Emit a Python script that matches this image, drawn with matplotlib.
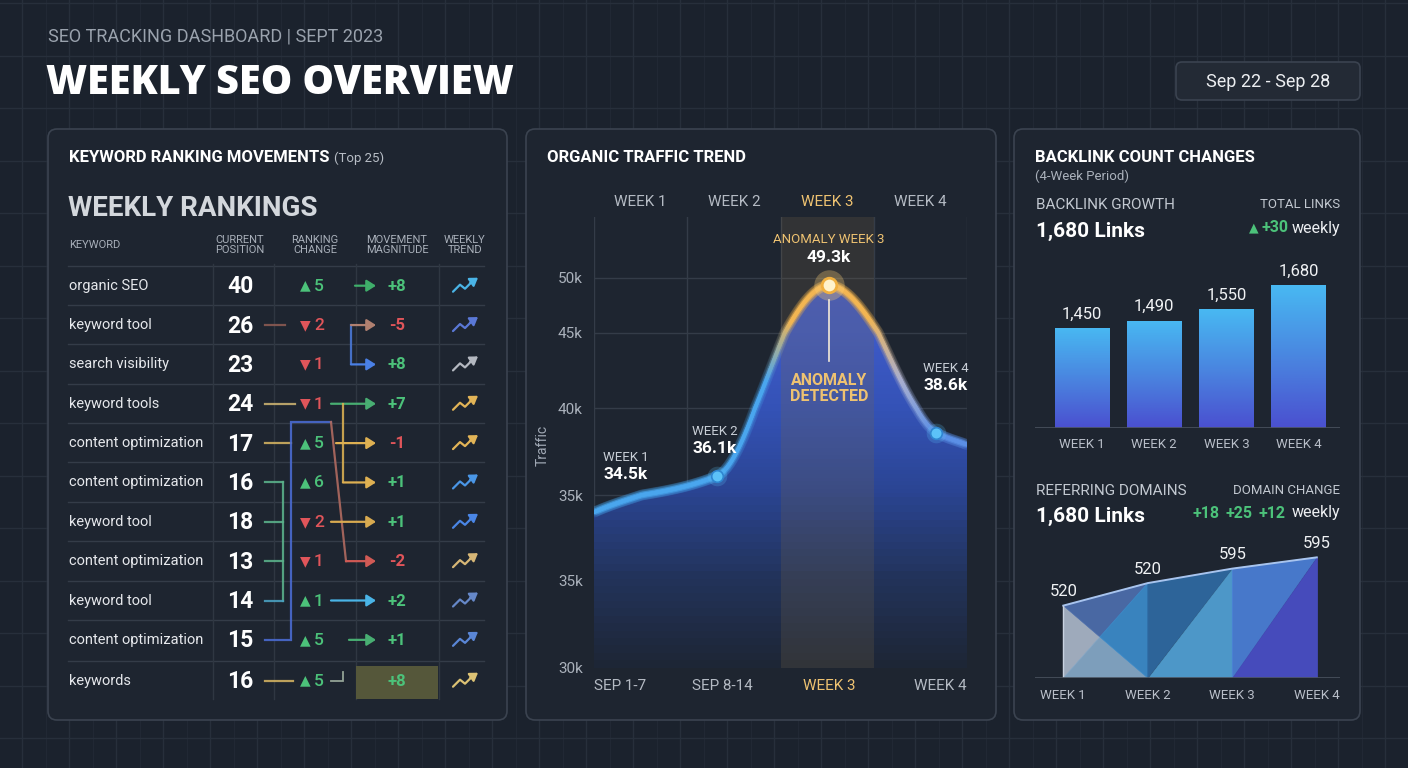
import numpy as np
import matplotlib
matplotlib.use("Agg")
import matplotlib.pyplot as plt
from matplotlib.patches import FancyBboxPatch, Polygon, Rectangle
from matplotlib.collections import LineCollection
from matplotlib.colors import LinearSegmentedColormap, to_rgb

# ---- data -----------------------------------------------------------------
keywords = ["organic SEO", "keyword tool", "search visibility", "keyword tools",
            "content optimization", "content optimization", "keyword tool",
            "content optimization", "keyword tool", "content optimization", "keywords"]
positions = [40, 26, 23, 24, 17, 16, 18, 13, 14, 15, 16]
rank_change = [5, -2, -1, -1, 5, 6, -2, -1, 1, 5, 5]
magnitude = [8, -5, 8, 7, -1, 1, 1, -2, 2, 1, 8]
trend_colors = ["#4ab4e6", "#5a78d6", "#b4b8c0", "#e2b457", "#e2b457", "#4a96e6",
                "#4a86e6", "#d6b676", "#6688c8", "#5a86d6", "#dcc274"]

week_names = ["WEEK 1", "WEEK 2", "WEEK 3", "WEEK 4"]
traffic_x = [0.0, 1.32, 2.52, 3.67, 4.0]
traffic_k = [34.5, 36.1, 49.3, 38.6, 37.9]
traffic_ticks = [30, 32.5, 35, 40, 45, 50]
traffic_tick_labels = ["30k", "35k", "35k", "40k", "45k", "50k"]
traffic_bottom = ["SEP 1-7", "SEP 8-14", "WEEK 3", "WEEK 4"]

backlinks = [1450, 1490, 1550, 1680]
domains = [520, 548, 566, 580]
domain_labels = ["520", "520", "595", "595"]
domain_change = ["+18", "+25", "+12"]

# ---- style ----------------------------------------------------------------
W, H = 1408, 768
BG = "#1b222d"
PANEL = "#1e2530"
EDGE = "#3b4350"
GRID = "#272f3b"
TXT = "#e6e8ec"
MUTED = "#9aa2ad"
GREEN = "#4cc27a"
RED = "#e0555a"
GOLD = "#eec271"
FONT = ["Roboto", "DejaVu Sans"]

fig = plt.figure(figsize=(W / 100, H / 100), dpi=100)
fig.patch.set_facecolor(BG)
base = fig.add_axes([0, 0, 1, 1])
base.set_xlim(0, W)
base.set_ylim(H, 0)
base.axis("off")


def px_axes(x0, y0, x1, y1):
    return fig.add_axes([x0 / W, 1 - y1 / H, (x1 - x0) / W, (y1 - y0) / H])


def put(x, y, s, size=10, color=TXT, weight="normal", ha="left", va="center", family=FONT, **kw):
    return base.text(x, y, s, fontsize=size, color=color, fontweight=weight,
                     ha=ha, va=va, family=family, **kw)


def put_seq(x, y, parts, ha="left", gap=4):
    r = fig.canvas.get_renderer()
    texts = [put(0, y, s, size, c, w) for s, size, c, w in parts]
    widths = [t.get_window_extent(r).width for t in texts]
    total = sum(widths) + gap * (len(parts) - 1)
    cur = x if ha == "left" else x - total
    for t, wd in zip(texts, widths):
        t.set_x(cur)
        cur += wd + gap


# background grid
for gx in np.arange(22, W, 47):
    base.plot([gx, gx], [0, H], color=GRID, lw=1, zorder=0)
    base.plot([gx + 23.5, gx + 23.5], [0, H], color="#212834", lw=0.8, zorder=0)
for gy in np.arange(3, H, 52.5):
    base.plot([0, W], [gy, gy], color=GRID, lw=1, zorder=0)

# panels
for x0, y0, x1, y1 in [(48, 129, 507, 720), (526, 129, 996, 720), (1014, 129, 1360, 720)]:
    base.add_patch(FancyBboxPatch((x0, y0), x1 - x0, y1 - y0,
                                  boxstyle="round,pad=0,rounding_size=9",
                                  fc=PANEL, ec=EDGE, lw=1.2, zorder=1))
base.add_patch(FancyBboxPatch((1176, 62), 184, 38, boxstyle="round,pad=0,rounding_size=6",
                              fc="#232a35", ec=EDGE, lw=1.2, zorder=1))
put(1268, 82, "Sep 22 - Sep 28", 13, "#eceef1", ha="center")

# header
put(48, 36, "SEO TRACKING DASHBOARD | SEPT 2023", 13, MUTED)
put(46, 84, "WEEKLY SEO OVERVIEW", 28.5, "#ffffff", "heavy", family=["Open Sans", "DejaVu Sans"])

# ---- panel 1: keyword table -------------------------------------------------
put_seq(69, 158, [("KEYWORD RANKING MOVEMENTS", 12, "#ffffff", "bold"), ("(Top 25)", 9.5, "#b8bec6", "normal")])
put(68, 209, "WEEKLY RANKINGS", 20, "#d3d7dc", "bold")
hdr = dict(size=8, color="#a8afb9", ha="center", linespacing=1.05)
put(69, 245, "KEYWORD", 8, "#a8afb9")
put(240, 245, "CURRENT\nPOSITION", **hdr)
put(315, 245, "RANKING\nCHANGE", **hdr)
put(397, 245, "MOVEMENT\nMAGNITUDE", **hdr)
put(465, 245, "WEEKLY\nTREND", **hdr)

row_y = 285.7 + 39.35 * np.arange(len(keywords))
row_y[-1] += 1.5
for yy in row_y:
    base.plot([68, 484], [yy - 20, yy - 20], color="#343c48", lw=1, zorder=2)
for vx in [213, 274, 355.5, 439]:
    base.plot([vx, vx], [264, 699], color="#2f3742", lw=1, zorder=2)

# highlighted last magnitude cell
base.add_patch(Rectangle((356, 666), 82, 33, fc="#55573a", ec="none", zorder=2))

for i, yy in enumerate(row_y):
    put(69, yy, keywords[i], 10.5, TXT)
    put(240, yy + 1, str(positions[i]), 16.5, "#ffffff", "bold", ha="center")
    rc = rank_change[i]
    col = GREEN if rc > 0 else RED
    put(305, yy, "▲" if rc > 0 else "▼", 10, col, ha="center", family=["DejaVu Sans"])
    put(314, yy + 0.5, str(abs(rc)), 12.5, col, "medium")
    mg = magnitude[i]
    put(397, yy + 0.5, f"{mg:+d}", 12, GREEN if mg > 0 else RED, "bold", ha="center")
    # trend icon
    tc = trend_colors[i]
    base.plot([453, 460, 465, 472], [yy + 6, yy - 1, yy + 3, yy - 4], color=tc, lw=1.6,
              solid_capstyle="round", solid_joinstyle="round", zorder=3)
    base.annotate("", xy=(478, yy - 8), xytext=(470, yy - 2.5),
                  arrowprops=dict(arrowstyle="-|>,head_length=0.45,head_width=0.3", color=tc,
                                  lw=1.6, shrinkA=0, shrinkB=0, mutation_scale=10), zorder=3)


def seg(pts, c, lw=1.6, alpha=0.9):
    xs, ys = zip(*pts)
    base.plot(xs, ys, color=c, lw=lw, alpha=alpha, zorder=3, solid_joinstyle="miter")


def arrow(x0, x1, y, c):
    base.annotate("", xy=(x1, y), xytext=(x0, y),
                  arrowprops=dict(arrowstyle="-|>,head_length=0.55,head_width=0.35", color=c,
                                  lw=1.6, shrinkA=0, shrinkB=0, mutation_scale=10), zorder=3)


R = row_y
# flow connectors between columns
arrow(355, 376, R[0], "#3fae6a")
seg([(265, R[1]), (285, R[1])], "#8a5a52")
seg([(351, R[1]), (351, R[2])], "#4a78d6")
arrow(351, 376, R[1], "#b08070")
arrow(351, 376, R[2], "#4a80e6")
seg([(265, R[3]), (295, R[3])], "#c8b070")
arrow(331, 376, R[3], "#48ae72")
seg([(343, R[3]), (343, R[5])], "#d8ae52")
arrow(343, 376, R[5], "#deb052")
seg([(265, R[4]), (291, R[4])], "#d0b060")
arrow(336, 376, R[4], "#deb052")
seg([(265, R[9]), (291, R[9]), (291, 422), (331, 422)], "#4a6ad0")
seg([(331, 422), (346, R[7])], "#b06a60")
arrow(346, 376, R[7], "#d05a55")
seg([(283, R[5]), (283, R[8])], "#5ab08a")
for k in [5, 6, 7, 8]:
    seg([(265, R[k]), (283, R[k])], "#5ab08a" if k < 8 else "#4aa0c0")
arrow(331, 376, R[6], "#d8aa50")
arrow(331, 376, R[8], "#4ab4e6")
arrow(349, 376, R[9], "#48ae72")
seg([(265, R[10]), (293, R[10])], "#d0b060")
seg([(331, R[10]), (343, R[10]), (343, R[10] - 9)], "#a0b0a0", lw=1.3)

# ---- panel 2: organic traffic ----------------------------------------------
put(547, 158, "ORGANIC TRAFFIC TREND", 12, "#ffffff", "bold")
put(543, 445, "Traffic", 10, "#a0a8b4", ha="center", rotation=90)

knot_v = np.array([30, 32.5, 35, 40, 45, 50, 55.5])
knot_p = np.array([0, 86.7, 172.7, 259.4, 335, 390, 451.0])
ax2 = px_axes(594, 216.7, 967, 667.7)
ax2.set_yscale("function", functions=(lambda v: np.interp(v, knot_v, knot_p),
                                      lambda p: np.interp(p, knot_p, knot_v)))
ax2.set_xlim(0, 4)
ax2.set_ylim(30, 55.5)
ax2.patch.set_alpha(0)
for s in ax2.spines.values():
    s.set_visible(False)
ax2.set_yticks(traffic_ticks)
ax2.set_yticklabels(traffic_tick_labels, family=FONT, fontsize=11, color="#aab1bb")
ax2.set_xticks([0.28, 1.38, 2.52, 3.71])
ax2.set_xticklabels(traffic_bottom, family=FONT, fontsize=11, color="#b4bac3")
ax2.get_xticklabels()[2].set_color(GOLD)
ax2.tick_params(length=0, pad=8)
ax2.yaxis.set_minor_locator(plt.NullLocator())
for t in traffic_ticks:
    ax2.axhline(t, color="#343c48", lw=1, zorder=1)
for v in range(5):
    ax2.axvline(v, color="#343c48", lw=1, zorder=1)
for i, nm in enumerate(week_names):
    ax2.text(i + 0.5, 1.033, nm, transform=ax2.get_xaxis_transform(), ha="center", va="center",
             family=FONT, fontsize=11, color=GOLD if i == 2 else "#b4bac3")


def pchip(x, y, xs):
    x = np.asarray(x, float)
    y = np.asarray(y, float)
    h = np.diff(x)
    d = np.diff(y) / h
    m = np.zeros_like(y)
    m[0], m[-1] = d[0], d[-1]
    for k in range(1, len(x) - 1):
        if d[k - 1] * d[k] > 0:
            w1, w2 = 2 * h[k] + h[k - 1], h[k] + 2 * h[k - 1]
            m[k] = (w1 + w2) / (w1 / d[k - 1] + w2 / d[k])
    idx = np.clip(np.searchsorted(x, xs) - 1, 0, len(h) - 1)
    t = (xs - x[idx]) / h[idx]
    h00, h10 = 2 * t ** 3 - 3 * t ** 2 + 1, t ** 3 - 2 * t ** 2 + t
    h01, h11 = -2 * t ** 3 + 3 * t ** 2, t ** 3 - t ** 2
    return h00 * y[idx] + h10 * h[idx] * m[idx] + h01 * y[idx + 1] + h11 * h[idx] * m[idx + 1]


xs = np.linspace(0, 4, 500)
ys = pchip(traffic_x, traffic_k, xs)

fill_cmap = LinearSegmentedColormap.from_list("fill", [
    (0.0, "#1d2535"), (0.1, "#22335a"), (0.2, "#2a4492"), (0.39, "#3452b6"),
    (0.6, "#3e5ac8"), (1.0, "#4a60d2")])
poly = Polygon(np.column_stack([np.r_[xs, 4, 0], np.r_[ys, 30, 30]]), closed=True,
               fc="none", ec="none", transform=ax2.transData)
ax2.add_patch(poly)
gy = np.linspace(30, 55.5, 120)
mesh = ax2.pcolormesh([0, 4], gy, ((gy[:-1] + gy[1:]) / 2)[:, None], cmap=fill_cmap,
                      vmin=30, vmax=55.5, shading="flat", zorder=2)
mesh.set_clip_path(poly)
ax2.axvspan(2, 3, color="#7a6848", alpha=0.22, lw=0, zorder=3)

stops_x = [0, 1.85, 2.12, 2.95, 3.3, 3.65, 4.0]
stops_c = [to_rgb(c) for c in ["#4aa6ee", "#4aa6ee", "#f2b552", "#f2b552", "#a8aed0", "#5b8fe6", "#5b8fe6"]]
mid = (xs[:-1] + xs[1:]) / 2
cols = np.column_stack([np.interp(mid, stops_x, [c[j] for c in stops_c]) for j in range(3)])
pts = np.column_stack([xs, ys]).reshape(-1, 1, 2)
segs = np.concatenate([pts[:-1], pts[1:]], axis=1)
for lw, al in [(8, 0.07), (5, 0.16)]:
    ax2.add_collection(LineCollection(segs, colors=cols, linewidths=lw, alpha=al, zorder=4,
                                      capstyle="round"))
ax2.add_collection(LineCollection(segs, colors=cols, linewidths=2.8, zorder=5, capstyle="round"))

for k in [1, 3]:
    ax2.scatter(traffic_x[k], traffic_k[k], s=200, color="#5cc2f8", alpha=0.22, lw=0, zorder=6)
    ax2.scatter(traffic_x[k], traffic_k[k], s=70, color="#5cc2f8", ec="#2f86d0", lw=1.2, zorder=7)
ax2.scatter(traffic_x[2], traffic_k[2], s=480, color="#ffd27a", alpha=0.3, lw=0, zorder=6)
ax2.scatter(traffic_x[2], traffic_k[2], s=110, color="#fff3cc", ec="#f0b040", lw=2, zorder=7)

lab = dict(textcoords="offset pixels", family=FONT, zorder=8, va="center")
ax2.annotate("WEEK 1", (traffic_x[0], traffic_k[0]), (9, 55), fontsize=9.5, color="#c8ced6", **lab)
ax2.annotate("34.5k", (traffic_x[0], traffic_k[0]), (9, 38), fontsize=12.5, color="#ffffff",
             fontweight="bold", **lab)
ax2.annotate("WEEK 2", (traffic_x[1], traffic_k[1]), (-25, 44), fontsize=9.5, color="#c8ced6", **lab)
ax2.annotate("36.1k", (traffic_x[1], traffic_k[1]), (-25, 27), fontsize=12.5, color="#ffffff",
             fontweight="bold", **lab)
ax2.annotate("WEEK 4", (traffic_x[3], traffic_k[3]), (-13, 64), fontsize=9.5, color="#c8ced6", **lab)
ax2.annotate("38.6k", (traffic_x[3], traffic_k[3]), (-13, 47), fontsize=12.5, color="#ffffff",
             fontweight="bold", **lab)
ax2.annotate("ANOMALY WEEK 3", (traffic_x[2], traffic_k[2]), (0, 46), fontsize=9.5, color=GOLD,
             ha="center", **lab)
ax2.annotate("49.3k", (traffic_x[2], traffic_k[2]), (0, 28), fontsize=12.5, color="#ffffff",
             fontweight="bold", ha="center", **lab)
ax2.plot([traffic_x[2]] * 2, [48.0, 43.1], color="#f3ead8", lw=1.2, zorder=8)
ax2.text(traffic_x[2], 41.3, "ANOMALY\nDETECTED", ha="center", va="center", family=FONT,
         fontsize=11.5, fontweight="bold", color=GOLD, linespacing=1.05, zorder=8)

# ---- panel 3: backlinks ----------------------------------------------------
put(1035, 158, "BACKLINK COUNT CHANGES", 12, "#ffffff", "bold")
put(1035, 176, "(4-Week Period)", 9.5, "#aab1bb")
put(1036, 205, "BACKLINK GROWTH", 11, "#c2c8d0")
put(1036, 231, "1,680 Links", 15, "#ffffff", "bold")
put(1340, 205, "TOTAL LINKS", 9.5, "#c2c8d0", ha="right")
put_seq(1340, 228, [("▲", 9, GREEN, "normal"), ("+30", 11.5, GREEN, "bold"),
                    ("weekly", 11.5, "#eceef1", "normal")], ha="right", gap=3)

bx = px_axes(1035, 250, 1340, 428)
bx.set_xlim(-0.65, 3.57)
bx.set_ylim(910, 1871)
bx.patch.set_alpha(0)
for s in bx.spines.values():
    s.set_visible(False)
bar_cmap = LinearSegmentedColormap.from_list("bar", ["#4a50d0", "#4a86e0", "#48b8f2"])
bars = bx.bar(range(4), np.array(backlinks) - 910, bottom=910, width=0.76, color="none", lw=0)
for i, (b, v) in enumerate(zip(bars, backlinks)):
    im = bx.imshow(np.linspace(0, 1, 100)[:, None], extent=[i - 0.38, i + 0.38, 910, v],
                   origin="lower", aspect="auto", cmap=bar_cmap, zorder=2)
    im.set_clip_path(b)
    bx.annotate(f"{v:,}", (i, v), (0, 14), textcoords="offset pixels", ha="center", va="center",
                family=FONT, fontsize=12, color="#f0f2f4")
bx.set_xlim(-0.65, 3.57)
bx.set_ylim(910, 1871)
bx.axhline(910, color="#4a525e", lw=1.2, zorder=3)
bx.set_yticks([])
bx.set_xticks(range(4))
bx.set_xticklabels(week_names, family=FONT, fontsize=9.5, color="#b8bec8")
bx.tick_params(length=0, pad=7)

put(1036, 491, "REFERRING DOMAINS", 11, "#c2c8d0")
put(1036, 516, "1,680 Links", 15, "#ffffff", "bold")
put(1340, 491, "DOMAIN CHANGE", 9.5, "#c2c8d0", ha="right")
put_seq(1340, 513, [(c, 11.5, GREEN, "bold") for c in domain_change] +
        [("weekly", 11.5, "#eceef1", "normal")], ha="right", gap=6)

ax3 = px_axes(1035, 530, 1340, 678)
ax3.set_xlim(-0.335, 3.275)
ax3.set_ylim(430, 614)
ax3.patch.set_alpha(0)
for s in ax3.spines.values():
    s.set_visible(False)
b0 = 430
v = domains
t = (v[0] - b0) / ((v[0] - b0) + (v[1] - b0))
cross = (t, b0 + (v[1] - b0) * t)
facets = [
    ([(0, v[0]), (0, b0), cross], "#aab6c8"),
    ([(0, v[0]), (1, v[1]), cross], "#4d6fae"),
    ([(0, b0), (1, b0), cross], "#86a9c8"),
    ([(1, v[1]), (1, b0), cross], "#3c8ccb"),
    ([(1, v[1]), (1, b0), (2, v[2])], "#2f6aa3"),
    ([(1, b0), (2, b0), (2, v[2])], "#52a2d6"),
    ([(2, v[2]), (2, b0), (3, v[3])], "#4b80d8"),
    ([(2, b0), (3, b0), (3, v[3])], "#4a4fc8"),
]
for verts, c in facets:
    ax3.add_patch(Polygon(verts, closed=True, fc=c, ec=c, lw=0.5, alpha=0.92, zorder=2))
ax3.plot(range(4), domains, color="#a8c4ee", lw=1.4, zorder=3)
ax3.plot([0, 0], [b0, v[0]], color="#c8d2e0", lw=1, zorder=3)
ax3.axhline(b0, color="#4a525e", lw=1.2, zorder=3)
for i, (val, lb) in enumerate(zip(domains, domain_labels)):
    ax3.annotate(lb, (i, val), (0, 14), textcoords="offset pixels", ha="center", va="center",
                 family=FONT, fontsize=12, color="#f0f2f4")
ax3.set_yticks([])
ax3.set_xticks(range(4))
ax3.set_xticklabels(week_names, family=FONT, fontsize=9.5, color="#b8bec8")
ax3.tick_params(length=0, pad=8)

fig.savefig("out.png", dpi=100, facecolor=BG)
